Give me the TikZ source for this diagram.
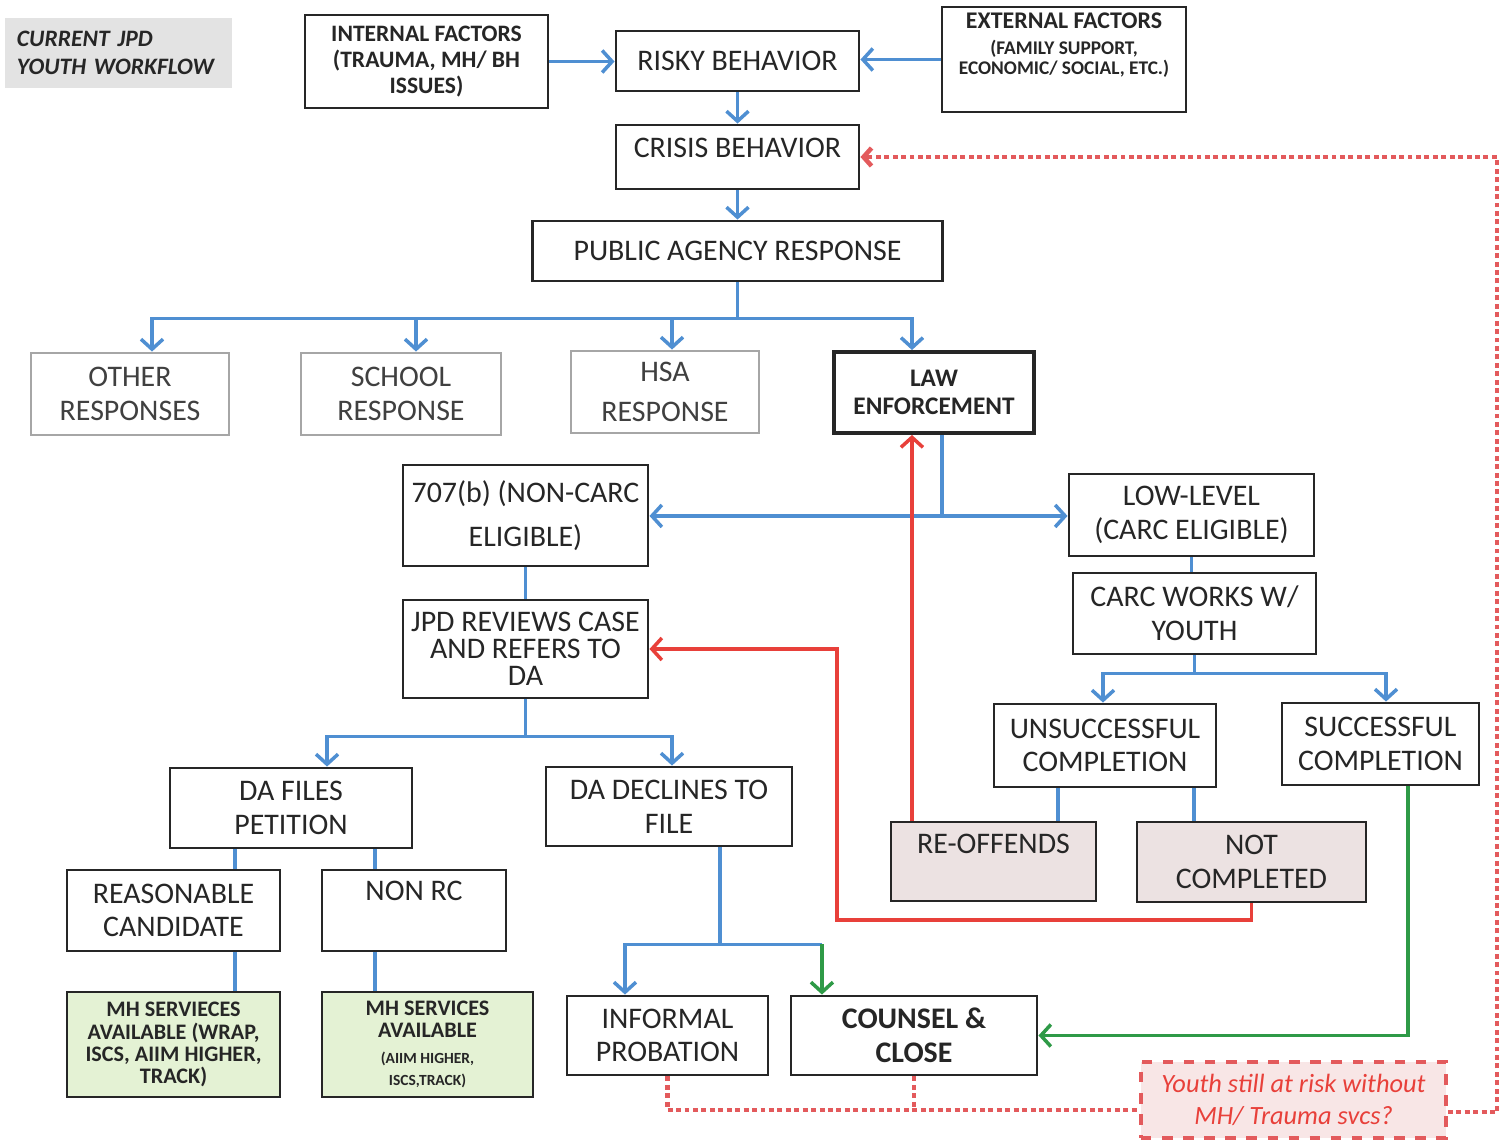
\documentclass[tikz,border=0pt]{standalone}
\usepackage{fontspec}
\setmainfont{Carlito}
\usetikzlibrary{arrows.meta,positioning}
\definecolor{FlowBlue}  {HTML}{4F8FD2}
\definecolor{LoopRed}   {HTML}{E8403A}
\definecolor{DotRed}    {HTML}{E35A5C}
\definecolor{CloseGreen}{HTML}{2E9A47}
\definecolor{TitleGray} {HTML}{E3E3E3}
\definecolor{RedoFill}  {HTML}{ECE2E2}
\definecolor{MHGreen}   {HTML}{E4F2D4}
\definecolor{NoteFill}  {HTML}{F8E6E6}

\begin{document}
\begin{tikzpicture}[x=0.01cm,y=-0.01cm,
  box/.style={draw=black!85,line width=0.8pt,fill=white,align=center,inner sep=1pt,
              text=black!85,font=\fontsize{8.5}{9.6}\selectfont},
  softbox/.style={box,draw=black!35,text=black!75},
  pinkbox/.style={box,fill=RedoFill},
  mhbox/.style={box,fill=MHGreen,font=\fontsize{6.3}{6.3}\selectfont\bfseries},
  titlebox/.style={fill=TitleGray,text width=2.03cm,inner xsep=0.12cm,minimum height=0.7cm,
              align=left,text=black!85,font=\fontsize{6.7}{8}\selectfont\bfseries\itshape},
  notebox/.style={draw=DotRed,dashed,line width=1pt,fill=NoteFill,align=center,text=LoopRed,
              font=\fontsize{7.5}{9}\selectfont\itshape},
  line/.style={color=FlowBlue,line width=1pt},
  arr/.style={line,-{Straight Barb[length=1mm,width=2.2mm]}},
  redarr/.style={color=LoopRed,line width=1pt,-{Straight Barb[length=1mm,width=2.2mm]}},
  greenarr/.style={color=CloseGreen,line width=1pt,-{Straight Barb[length=1mm,width=2.2mm]}},
  dotline/.style={color=DotRed,line width=1.3pt,dash pattern=on 1.4pt off 1pt},
  dotarr/.style={dotline,-{Straight Barb[length=0.8mm,width=1.8mm]}}
]
  \useasboundingbox (0,0) rectangle (1500,1143);

  % top row
  \node[titlebox] (title) at (118.5,53) {CURRENT JPD\\YOUTH WORKFLOW};
  \node[box,font=\fontsize{6.7}{7.4}\selectfont\bfseries,minimum width=2.43cm,minimum height=0.93cm]
        (internal) at (426.5,61.5) {INTERNAL FACTORS\\(TRAUMA, MH/ BH\\ISSUES)};
  \node[box,minimum width=2.43cm,minimum height=0.6cm] (risky) at (737.5,61) {RISKY BEHAVIOR};
  \node[box,inner sep=0pt,minimum width=2.44cm,minimum height=1.05cm] (external) at (1064,59.5)
        {\parbox[c][0.93cm][t]{2.3cm}{\centering\fontsize{6.8}{5.8}\selectfont\bfseries
         EXTERNAL FACTORS\\[1.5pt]\fontsize{5.5}{5.8}\selectfont(FAMILY SUPPORT,\\ECONOMIC/ SOCIAL, ETC.)}};

  \node[box,text depth=5pt,minimum width=2.43cm,minimum height=0.64cm] (crisis) at (737.5,157) {CRISIS BEHAVIOR};
  \node[box,minimum width=4.09cm,minimum height=0.6cm] (public) at (737.5,251) {PUBLIC AGENCY RESPONSE};

  % responses
  \node[softbox,minimum width=1.98cm,minimum height=0.82cm] (other)  at (130,394) {OTHER\\RESPONSES};
  \node[softbox,minimum width=2.0cm,minimum height=0.82cm]  (school) at (401,394) {SCHOOL\\RESPONSE};
  \node[softbox,minimum width=1.88cm,minimum height=0.82cm] (hsa)    at (665,392) {HSA\\[2pt]RESPONSE};
  \node[box,line width=1.1pt,font=\fontsize{7.2}{8}\selectfont\bfseries,minimum width=2.0cm,minimum height=0.81cm]
        (law) at (934,392.5) {LAW\\ENFORCEMENT};

  % law enforcement paths
  \node[box,minimum width=2.45cm,minimum height=1.01cm] (b707) at (525.5,515.5) {707(b) (NON-CARC\\[3pt]ELIGIBLE)};
  \node[box,minimum width=2.45cm,minimum height=0.82cm] (low)  at (1191.5,515) {LOW-LEVEL\\(CARC ELIGIBLE)};
  \node[box,minimum width=2.43cm,minimum height=0.81cm] (carc) at (1194.5,613.5) {CARC WORKS W/\\YOUTH};
  \node[box,font=\fontsize{8.5}{7.6}\selectfont,minimum width=2.45cm,minimum height=0.98cm]
        (jpd) at (525.5,649) {JPD REVIEWS CASE\\AND REFERS TO\\DA};
  \node[box,minimum width=2.22cm,minimum height=0.83cm] (unsucc) at (1105,745.5) {UNSUCCESSFUL\\COMPLETION};
  \node[box,minimum width=1.97cm,minimum height=0.82cm] (succ)   at (1380.5,744) {SUCCESSFUL\\COMPLETION};
  \node[box,minimum width=2.42cm,minimum height=0.8cm]  (dafiles) at (291,808) {DA FILES\\PETITION};
  \node[box,minimum width=2.46cm,minimum height=0.79cm] (dadecl)  at (669,806.5) {DA DECLINES TO\\FILE};
  \node[pinkbox,text depth=10pt,minimum width=2.05cm,minimum height=0.79cm] (reoff) at (993.5,861.5) {RE-OFFENDS};
  \node[pinkbox,minimum width=2.29cm,minimum height=0.8cm] (notcomp) at (1251.5,862) {NOT\\COMPLETED};

  % bottom rows
  \node[box,minimum width=2.13cm,minimum height=0.81cm] (reason) at (173.5,910.5) {REASONABLE\\CANDIDATE};
  \node[box,text depth=11pt,minimum width=1.84cm,minimum height=0.81cm] (nonrc) at (414,910.5) {NON RC};
  \node[mhbox,minimum width=2.13cm,minimum height=1.05cm] (mhone) at (173.5,1044.5)
        {MH SERVIECES\\AVAILABLE (WRAP,\\ISCS, AIIM HIGHER,\\TRACK)};
  \node[mhbox,minimum width=2.11cm,minimum height=1.05cm] (mhtwo) at (427.5,1044.5)
        {MH SERVICES\\AVAILABLE\\[1pt]{\fontsize{4.4}{5.2}\selectfont (AIIM HIGHER,}\\{\fontsize{4.4}{5.2}\selectfont ISCS,TRACK)}};
  \node[box,minimum width=2.01cm,minimum height=0.79cm] (informal) at (667.5,1035.5) {INFORMAL\\PROBATION};
  \node[box,font=\fontsize{8.5}{9.6}\selectfont\bfseries,minimum width=2.46cm,minimum height=0.79cm]
        (counsel) at (914,1035.5) {COUNSEL \&\\CLOSE};
  \node[notebox,minimum width=3.05cm,minimum height=0.76cm] (note) at (1293.5,1100)
        {Youth still at risk without\\MH/ Trauma svcs?};

  % blue flow
  \draw[arr] (internal.east) -- (internal.east -| risky.west);
  \draw[arr] (external.west) -- (external.west -| risky.east);
  \draw[arr] (risky) -- (crisis);
  \draw[arr] (crisis) -- (public);
  \draw[line] (public.south) -- ++(0,36) coordinate (split);
  \draw[arr] (split) -| ([xshift=0.22cm]other.north);
  \draw[arr] (split) -| ([xshift=0.15cm]school.north);
  \draw[arr] (split) -| ([xshift=0.07cm]hsa.north);
  \draw[arr] (split) -| ([xshift=-0.22cm]law.north);

  \draw[line] ([xshift=0.08cm]law.south) -- ++(0,81) coordinate (lawsplit);
  \draw[arr] (lawsplit) -- (lawsplit -| b707.east);
  \draw[arr] (lawsplit) -- (lawsplit -| low.west);
  \draw[line] (b707) -- (jpd);
  \draw[line] (low.south) -- (low.south |- carc.north);

  \draw[line] (jpd.south) -- ++(0,37) coordinate (jpdsplit);
  \draw[arr] (jpdsplit) -| ([xshift=0.36cm]dafiles.north);
  \draw[arr] (jpdsplit) -| ([xshift=0.03cm]dadecl.north);

  \draw[line] (carc.south) -- ++(0,18) coordinate (carcsplit);
  \draw[arr] (carcsplit) -| ([xshift=-0.02cm]unsucc.north);
  \draw[arr] (carcsplit) -| ([xshift=0.055cm]succ.north);
  \draw[line] ([xshift=-0.47cm]unsucc.south) -- ([xshift=-0.47cm]unsucc.south |- reoff.north);
  \draw[line] ([xshift=0.89cm]unsucc.south) -- ([xshift=0.89cm]unsucc.south |- notcomp.north);

  \draw[line] ([xshift=-0.56cm]dafiles.south) -- ([xshift=-0.56cm]dafiles.south |- reason.north);
  \draw[line] ([xshift=0.84cm]dafiles.south) -- ([xshift=0.84cm]dafiles.south |- nonrc.north);
  \draw[line] ([xshift=0.615cm]reason.south) -- ([xshift=0.615cm]reason.south |- mhone.north);
  \draw[line] ([xshift=-0.39cm]nonrc.south) -- ([xshift=-0.39cm]nonrc.south |- mhtwo.north);

  \draw[line] ([xshift=0.51cm]dadecl.south) -- ++(0,97) coordinate (decsplit);
  \draw[arr] (decsplit) -| ([xshift=-0.425cm]informal.north);
  \draw[line] (decsplit) -- ([xshift=-0.92cm]counsel.north |- decsplit);
  \draw[greenarr] ([xshift=-0.92cm]counsel.north |- decsplit) -- ([xshift=-0.92cm]counsel.north);
  \draw[greenarr] ([xshift=0.275cm]succ.south) |- (counsel.east);

  % red loops
  \draw[redarr] ([xshift=-0.815cm]reoff.north) -- ([xshift=-0.815cm]reoff.north |- law.south);
  \coordinate (redbend) at (837,920);
  \draw[redarr] (notcomp.south) |- (redbend) |- (jpd.east);

  % dotted return
  \coordinate (dotjoin) at ([yshift=-0.1cm]note.west);
  \coordinate (dotedge) at (1497,0);
  \draw[dotline] (informal.south) |- (dotjoin);
  \draw[dotline] (counsel.south) -- (counsel.south |- dotjoin);
  \draw[dotarr] ([yshift=-0.12cm]note.east) -| (dotedge |- crisis.east) -- (crisis.east);
\end{tikzpicture}
\end{document}
